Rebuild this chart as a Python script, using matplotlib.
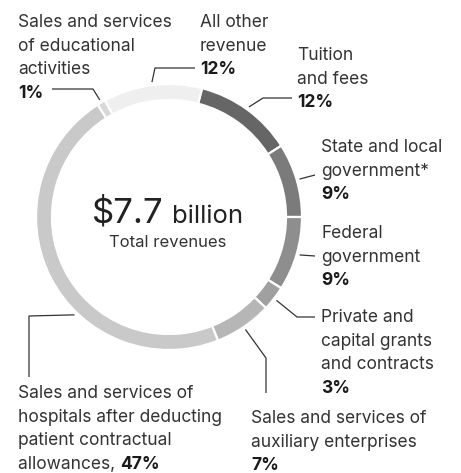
import numpy as np
import matplotlib.pyplot as plt
import matplotlib as mpl

mpl.rcParams.update({
    'font.family': ['Inter', 'DejaVu Sans'],
    'font.size': 12.5,
})

# -- Data (clockwise from the Tuition segment) -------------------------
CATEGORIES = ["Tuition and fees", "State and local government*",
              "Federal government", "Private and capital grants and contracts",
              "Sales and services of auxiliary enterprises",
              "Sales and services of hospitals",
              "Sales and services of educational activities",
              "All other revenue"]
SHARES = [12, 9, 9, 3, 7, 47, 1, 12]
COLORS = ['#666666', '#7b7b7b', '#8e8e8e', '#a0a0a0', '#b6b6b6',
          '#c9c9c9', '#d8d8d8', '#efefef']
TOTAL = "$7.7"

# label text lines (last line is the bold percentage), layout in pixels
LABELS = {
    "Tuition and fees": (["Tuition", "and fees"], 297, 60),
    "State and local government*": (["State and local", "government*"], 321, 152),
    "Federal government": (["Federal", "government"], 321, 238),
    "Private and capital grants and contracts":
        (["Private and", "capital grants", "and contracts"], 321, 322),
    "Sales and services of auxiliary enterprises":
        (["Sales and services of", "auxiliary enterprises"], 251, 423),
    "Sales and services of educational activities":
        (["Sales and services", "of educational", "activities"], 18, 27),
    "All other revenue": (["All other", "revenue"], 200, 27),
}
HOSP_LINES = ["Sales and services of", "hospitals after deducting",
              "patient contractual", "allowances, "]

# leader elbows (pixels), anchor comes from the wedge angle
LEADERS = {
    "Tuition and fees": [(263, 98), (292, 98)],
    "State and local government*": [(315, 175)],
    "Federal government": [(315, 256)],
    "Private and capital grants and contracts": [(297, 317), (315, 317)],
    "Sales and services of auxiliary enterprises": [(266, 358), (266, 393)],
    "Sales and services of hospitals": [(29, 316), (29, 377)],
    "Sales and services of educational activities": [(93, 89), (52, 89)],
    "All other revenue": [(155, 68), (195, 68)],
}
ANCHOR_ANGLE = {"Sales and services of hospitals": 224.0}

W, H = 461, 473
CX, CY, R, RING = 169, 217, 133, 16
START = 14.4  # degrees clockwise from 12 o'clock
LINE_H = 23.7
TXT = '#333333'
BOLD = '#1a1a1a'


def Y(y):
    return H - y


fig = plt.figure(figsize=(W / 100, H / 100), dpi=100)
ax = fig.add_axes([0, 0, 1, 1])
ax.pie(SHARES, colors=COLORS, startangle=90 - START, counterclock=False,
       radius=R, center=(CX, Y(CY)),
       wedgeprops=dict(width=RING, edgecolor='white', linewidth=1.6))
ax.set_xlim(0, W)
ax.set_ylim(0, H)
ax.set_aspect('equal')
ax.axis('off')

# leaders
cum = np.cumsum([0] + SHARES)
for i, cat in enumerate(CATEGORIES):
    ang = START + 360 * (cum[i] + SHARES[i] / 2) / 100
    ang = ANCHOR_ANGLE.get(cat, ang)
    a = np.radians(ang)
    r = R + 3
    pts = [(CX + r * np.sin(a), CY - r * np.cos(a))] + LEADERS[cat]
    xs = [p[0] for p in pts]
    ys = [Y(p[1]) for p in pts]
    ax.plot(xs, ys, color='#333333', lw=0.9, solid_capstyle='butt')

# labels
for i, cat in enumerate(CATEGORIES):
    if cat not in LABELS:
        continue
    lines, x, y0 = LABELS[cat]
    for j, ln in enumerate(lines):
        ax.text(x, Y(y0 + j * LINE_H), ln, color=TXT, va='baseline', ha='left')
    ax.text(x, Y(y0 + len(lines) * LINE_H), f"{SHARES[i]}%", color=BOLD,
            fontweight='bold', va='baseline', ha='left')

# hospitals label with inline bold share
hx, hy = 18, 398
for j, ln in enumerate(HOSP_LINES):
    t = ax.text(hx, Y(hy + j * LINE_H), ln, color=TXT, va='baseline', ha='left')
fig.canvas.draw()
bb = t.get_window_extent()
ax.text(bb.x1, Y(hy + 3 * LINE_H), f"{SHARES[5]}%", color=BOLD,
        fontweight='bold', va='baseline', ha='left')

# center
ax.text(164, Y(223), TOTAL, fontsize=25, color='#222222',
        ha='right', va='baseline')
ax.text(172, Y(223), "billion", fontsize=18.5, color='#222222', ha='left',
        va='baseline')
ax.text(168, Y(247), "Total revenues", fontsize=12, color=TXT, ha='center',
        va='baseline')

fig.savefig('out.png', dpi=100, facecolor='white')
